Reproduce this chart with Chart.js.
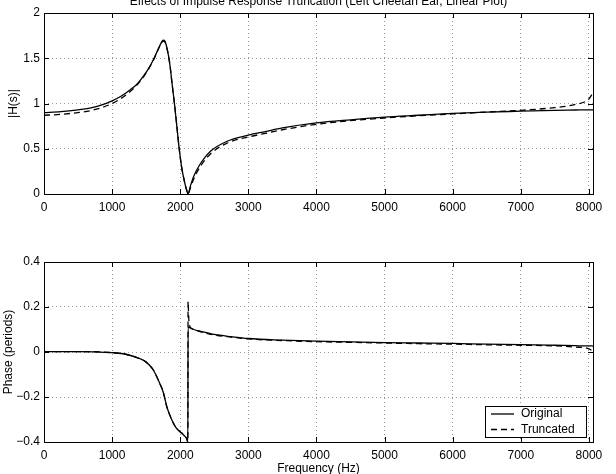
<!DOCTYPE html>
<html><head><meta charset="utf-8">
<script src="https://cdn.jsdelivr.net/npm/chart.js@4.4.0/dist/chart.umd.min.js"></script>
<style>
html,body{margin:0;padding:0;background:#fff;}
#wrap{position:relative;width:616px;height:474px;overflow:hidden;background:#fff;}
canvas{position:absolute;left:0;}
</style></head><body>
<div id="wrap">
<canvas id="c1" width="616" height="235" style="top:0px"></canvas>
<canvas id="c2" width="616" height="239" style="top:235px"></canvas>
</div>
<script>
const chartTitle = "Effects of Impulse Response Truncation (Left Cheetah Ear, Linear Plot)";
const magLabel = "|H(s)|";
const phaseLabel = "Phase (periods)";
const freqLabel = "Frequency (Hz)";
const legendLabels = ["Original", "Truncated"];

const xTickValues = [0, 1000, 2000, 3000, 4000, 5000, 6000, 7000, 8000];
const magTickValues = [0, 0.5, 1, 1.5, 2];
const phaseTickValues = [-0.4, -0.2, 0, 0.2, 0.4];

const magFreq = [0, 250, 500, 675, 850, 1000, 1130, 1262, 1360, 1457, 1530, 1604, 1682, 1720, 1750, 1775, 1800, 1825, 1850, 1880, 1915, 1950, 1985, 2020, 2050, 2080, 2100, 2115, 2150, 2200, 2300, 2440, 2680, 3000, 3250, 3500, 4000, 4500, 5000, 5500, 6000, 6500, 7000, 7500, 7800, 8000, 8060];
const magOriginal = [0.90, 0.91, 0.93, 0.95, 0.985, 1.03, 1.08, 1.15, 1.21, 1.30, 1.38, 1.48, 1.61, 1.67, 1.70, 1.69, 1.63, 1.54, 1.42, 1.22, 1.00, 0.75, 0.50, 0.30, 0.18, 0.08, 0.03, 0.0, 0.09, 0.20, 0.34, 0.47, 0.58, 0.65, 0.69, 0.73, 0.785, 0.82, 0.85, 0.87, 0.89, 0.905, 0.915, 0.925, 0.928, 0.93, 0.93];
const magTruncated = [0.87, 0.88, 0.90, 0.92, 0.955, 1.0, 1.055, 1.13, 1.20, 1.29, 1.375, 1.475, 1.605, 1.665, 1.69, 1.68, 1.625, 1.535, 1.42, 1.22, 1.0, 0.75, 0.5, 0.3, 0.18, 0.08, 0.03, 0.0, 0.07, 0.17, 0.31, 0.44, 0.56, 0.63, 0.67, 0.71, 0.77, 0.81, 0.84, 0.865, 0.885, 0.905, 0.925, 0.955, 0.99, 1.05, 1.12];

const phaseFreq = [0, 500, 1000, 1200, 1410, 1500, 1605, 1700, 1752, 1800, 1840, 1874, 1910, 1948, 2021, 2060, 2095, 2112, 2115, 2125, 2140, 2160, 2200, 2300, 2500, 2750, 3000, 3500, 4000, 4500, 5000, 5500, 6000, 6500, 7000, 7500, 7800, 8000, 8040, 8060];
const phaseOriginal = [0.002, 0.002, -0.003, -0.01, -0.03, -0.045, -0.08, -0.14, -0.18, -0.24, -0.275, -0.30, -0.322, -0.34, -0.36, -0.372, -0.385, -0.40, 0.11, 0.11, 0.108, 0.105, 0.10, 0.092, 0.078, 0.068, 0.060, 0.053, 0.048, 0.045, 0.042, 0.040, 0.038, 0.035, 0.033, 0.030, 0.028, 0.027, 0.027, 0.026];
const phaseTruncated = [0.002, 0.002, -0.003, -0.01, -0.03, -0.045, -0.08, -0.14, -0.18, -0.24, -0.275, -0.30, -0.322, -0.34, -0.36, -0.372, -0.385, -0.40, 0.225, 0.15, 0.115, 0.106, 0.10, 0.090, 0.076, 0.066, 0.058, 0.051, 0.046, 0.043, 0.040, 0.037, 0.035, 0.032, 0.030, 0.027, 0.022, 0.014, 0.006, -0.004];

const FONT = "'Liberation Sans', Arial, Helvetica, sans-serif";
Chart.defaults.font.family = FONT;
Chart.defaults.font.size = 12;
Chart.defaults.color = '#000';

function pts(xs, ys) { return xs.map((x, i) => ({x: x, y: ys[i]})); }
function fmtNum(v) {
  const s = String(Math.round(v * 1000) / 1000);
  return s.replace('-', '\u2212');
}

const framePlugin = {
  id: 'frame',
  afterDraw(chart) {
    const {ctx, chartArea: a, scales} = chart;
    ctx.save();
    ctx.strokeStyle = '#000';
    ctx.lineWidth = 1;
    ctx.setLineDash([]);
    ctx.strokeRect(Math.round(a.left) + 0.5, Math.round(a.top) + 0.5, Math.round(a.right - a.left), Math.round(a.bottom - a.top));
    const tl = 5;
    ctx.beginPath();
    scales.x.ticks.forEach((t, i) => {
      const px = Math.round(scales.x.getPixelForTick(i)) + 0.5;
      ctx.moveTo(px, a.bottom); ctx.lineTo(px, a.bottom - tl);
      ctx.moveTo(px, a.top); ctx.lineTo(px, a.top + tl);
    });
    scales.y.ticks.forEach((t, i) => {
      const py = Math.round(scales.y.getPixelForTick(i)) + 0.5;
      ctx.moveTo(a.left, py); ctx.lineTo(a.left + tl, py);
      ctx.moveTo(a.right, py); ctx.lineTo(a.right - tl, py);
    });
    ctx.stroke();
    ctx.restore();
  }
};

const titlePlugin = {
  id: 'topTitle',
  afterDraw(chart, args, opts) {
    if (!opts.text) return;
    const {ctx, chartArea: a} = chart;
    ctx.save();
    ctx.font = '12px ' + FONT;
    ctx.fillStyle = '#000';
    ctx.textAlign = 'center';
    ctx.textBaseline = 'middle';
    ctx.fillText(opts.text, (a.left + a.right) / 2, 2);
    ctx.restore();
  }
};

const boxLegendPlugin = {
  id: 'boxLegend',
  afterDraw(chart, args, opts) {
    if (!opts.show) return;
    const {ctx, chartArea: a} = chart;
    const w = 101, h = 31;
    const x0 = a.right - 7 - w, y0 = a.bottom - 5 - h;
    ctx.save();
    ctx.fillStyle = '#fff';
    ctx.fillRect(x0, y0, w, h);
    ctx.strokeStyle = '#000';
    ctx.lineWidth = 1;
    ctx.strokeRect(Math.round(x0) + 0.5, Math.round(y0) + 0.5, w, h);
    ctx.font = '12px ' + FONT;
    ctx.textBaseline = 'middle';
    ctx.fillStyle = '#000';
    chart.data.datasets.forEach((ds, i) => {
      const yy = y0 + 8 + i * 15.5;
      ctx.beginPath();
      ctx.setLineDash(ds.borderDash || []);
      ctx.lineWidth = ds.borderWidth;
      ctx.moveTo(x0 + 6, yy); ctx.lineTo(x0 + 29, yy);
      ctx.stroke();
      ctx.setLineDash([]);
      ctx.fillText(ds.label, x0 + 36, yy);
    });
    ctx.restore();
  }
};

function makeOptions(cfg) {
  return {
    responsive: false,
    animation: false,
    devicePixelRatio: 1,
    layout: {padding: cfg.padding},
    plugins: {
      legend: {display: false},
      tooltip: {enabled: false},
      topTitle: {text: cfg.title || ''},
      boxLegend: {show: !!cfg.legend}
    },
    elements: {point: {radius: 0}, line: {cubicInterpolationMode: 'monotone'}},
    scales: {
      x: {
        type: 'linear', min: 0, max: 8060,
        afterFit(s) { s.height = cfg.xHeight; },
        afterBuildTicks(s) { s.ticks = xTickValues.map(v => ({value: v})); },
        ticks: {padding: 6, includeBounds: false, callback: v => String(v), maxRotation: 0, autoSkip: false, font: {size: 12}},
        grid: {drawTicks: false, color: '#9a9a9a', lineWidth: 1},
        border: {display: false, dash: [1, 3]},
        title: cfg.xTitle ? {display: true, text: cfg.xTitle, font: {size: 12}, padding: {top: 0, bottom: -2}} : {display: false}
      },
      y: {
        type: 'linear', min: cfg.yMin, max: cfg.yMax,
        afterFit(s) { s.width = 44; },
        afterBuildTicks(s) { s.ticks = cfg.yTicks.map(v => ({value: v})); },
        ticks: {padding: 4, callback: v => fmtNum(v), font: {size: 12}},
        grid: {drawTicks: false, color: '#9a9a9a', lineWidth: 1},
        border: {display: false, dash: [1, 3]},
        title: {display: true, text: cfg.yTitle, font: {size: 12}, padding: {top: cfg.yTitlePad, bottom: 0}}
      }
    }
  };
}

function ds(label, data, dashed) {
  return {label: label, data: data, borderColor: '#000', backgroundColor: '#000', borderWidth: 1.3, borderDash: dashed ? [6, 4] : [], fill: false, pointRadius: 0};
}

new Chart(document.getElementById('c1'), {
  type: 'line',
  data: {datasets: [ds(legendLabels[0], pts(magFreq, magOriginal), false), ds(legendLabels[1], pts(magFreq, magTruncated), true)]},
  options: makeOptions({padding: {left: 0, top: 13, right: 23, bottom: 21}, xHeight: 20, yMin: 0, yMax: 2, yTicks: magTickValues, yTitle: magLabel, yTitlePad: 6, title: chartTitle}),
  plugins: [framePlugin, titlePlugin]
});

new Chart(document.getElementById('c2'), {
  type: 'line',
  data: {datasets: [ds(legendLabels[0], pts(phaseFreq, phaseOriginal), false), ds(legendLabels[1], pts(phaseFreq, phaseTruncated), true)]},
  options: makeOptions({padding: {left: 0, top: 27, right: 23, bottom: 0}, xHeight: 32, xTitle: freqLabel, yMin: -0.4, yMax: 0.4, yTicks: phaseTickValues, yTitle: phaseLabel, yTitlePad: 1, legend: true}),
  plugins: [framePlugin, boxLegendPlugin]
});
</script>
</body></html>
